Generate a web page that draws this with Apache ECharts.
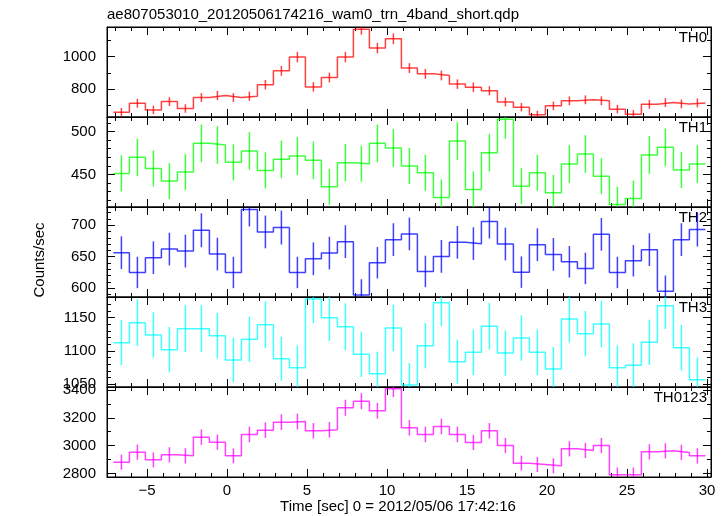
<!DOCTYPE html>
<html><head><meta charset="utf-8">
<script src="https://cdn.jsdelivr.net/npm/echarts@6/dist/echarts.min.js"></script>
<style>html,body{margin:0;padding:0;background:#fff}#c{width:728px;height:516px}</style>
</head><body><div id="c"></div>
<script>
// ---- data ----
const titleText = 'ae807053010_20120506174216_wam0_trn_4band_short.qdp';
const xLabelText = 'Time [sec] 0 = 2012/05/06 17:42:16';
const yLabelText = 'Counts/sec';
const panelNames = ['TH0', 'TH1', 'TH2', 'TH3', 'TH0123'];
const colors = ['#ff0000', '#00ff00', '#0000ff', '#00ffff', '#ff00ff'];

const time = [-6.6,-5.6,-4.6,-3.6,-2.6,-1.6,-0.6,0.4,1.4,2.4,3.4,4.4,5.4,6.4,7.4,8.4,9.4,10.4,11.4,12.4,13.4,14.4,15.4,16.4,17.4,18.4,19.4,20.4,21.4,22.4,23.4,24.4,25.4,26.4,27.4,28.4,29.4];
const halfBin = 0.5;

const th0 = [659,714,673,724,682,749,761,749,757,827,912,996,814,871,996,1167,1051,1108,929,894,884,831,812,790,722,690,643,698,729,735,729,678,647,708,718,710,716];
const th0Err = [26,27,26,27,26,27,28,27,28,29,30,32,29,30,32,34,32,33,30,30,30,29,29,28,27,26,25,26,27,27,27,26,25,27,27,27,27];

const th1 = [451.2,469.9,457,442.2,452.7,486.3,484.4,464.1,477.3,454.7,467.6,471.5,466.4,435.5,463.7,462.5,486.3,480.9,459.8,452,423,489,432.4,475.4,514.5,436.3,452,428.5,462.1,473.8,448,414.8,421.9,472.7,481.6,455.1,462.1];
const th1Err = [21,22,21,21,21,22,22,21,22,21,22,22,22,21,22,21,22,22,21,21,21,22,21,22,23,21,21,21,22,22,21,21,21,22,22,21,22];

const th2 = [656.4,625,648.4,662.2,659,692,654.2,625,725,689.4,696.3,625,646.8,655.8,673.9,589.3,640.4,677.1,686.2,626.6,650.5,672.9,670.7,705.9,670.2,625.5,669.1,653.7,642,631.4,685.6,625,643.6,661.2,595.2,677.1,693.1];
const th2Err = [26,25,26,26,26,27,26,25,27,26,27,25,26,26,26,25,25,26,26,25,26,26,26,27,26,25,26,26,25,25,26,25,25,26,25,26,27];

const th3 = [1112.5,1142.5,1124,1102,1133.5,1133.5,1123,1086.5,1117.5,1139.5,1088.5,1075,1178,1150,1136.5,1095,1066,1134.5,1049,1108,1172.5,1084,1098,1137,1097,1119.5,1098,1073,1148,1126,1140.5,1075,1078.5,1113,1168,1105,1057];
const th3Err = [34,35,34,34,35,35,34,33,34,35,33,33,36,35,35,34,33,35,33,34,35,33,34,35,34,34,34,33,35,34,35,33,33,34,35,34,33];

const th0123 = [2880.8,2952.8,2897.6,2933.6,2926.4,3060.8,3024.8,2926.4,3080,3111.2,3168.8,3173.6,3106.4,3113.6,3272,3320,3250.4,3408.8,3128,3080,3137.6,3080,3022.4,3106.4,3000.8,2873.6,2864,2854.4,2976.8,2964.8,3000.8,2789.6,2789.6,2955.2,2962.4,2950.4,2926.4];
const th0123Err = [54,55,54,55,55,56,55,54,56,56,57,57,56,56,58,58,57,59,56,56,56,56,55,56,55,54,54,54,55,55,55,53,53,55,55,55,55];

const xRange = [-7.5, 30.25];
const xMajor = 5;
const yRanges = [[630, 1180], [412, 517], [586, 729], [1046, 1181], [2774, 3422]];
const yMajor = [200, 50, 50, 50, 200];
const yMinorSplit = [2, 5, 5, 5, 2];

const values = [th0, th1, th2, th3, th0123];
const errors = [th0Err, th1Err, th2Err, th3Err, th0123Err];

// ---- chart ----
const FONT = 'Liberation Sans, Arial, Helvetica, sans-serif';
const chart = echarts.init(document.getElementById('c'), null, {renderer: 'canvas'});
const gridLeft = 107, gridWidth = 604, gridTop = 27, gridH = 90;

const grids = [], xAxes = [], yAxes = [], series = [], graphics = [];
for (let i = 0; i < 5; i++) {
  grids.push({left: gridLeft, width: gridWidth, top: gridTop + i * gridH, height: gridH,
    show: true, borderColor: '#000', borderWidth: 1, backgroundColor: 'transparent'});
  const isLast = i === 4;
  const xBase = {
    type: 'value', gridIndex: i, min: xRange[0], max: xRange[1],
    minInterval: xMajor, maxInterval: xMajor,
    axisLine: {show: true, onZero: false, lineStyle: {color: '#000', width: 1}},
    axisTick: {show: true, inside: true, length: 8, lineStyle: {color: '#000', width: 1}},
    minorTick: {show: true, splitNumber: 5, length: 4, lineStyle: {color: '#000', width: 1}},
    splitLine: {show: false}, minorSplitLine: {show: false}
  };
  xAxes.push(Object.assign({}, xBase, {position: 'bottom',
    axisLabel: {show: isLast, color: '#000', fontSize: 15, fontFamily: FONT, margin: 6,
      showMinLabel: false, showMaxLabel: true,
      formatter: v => (Math.abs(v % xMajor) < 1e-9 ? String(v).replace('-', '\u2212') : '')}}));
  xAxes.push(Object.assign({}, xBase, {position: 'top', axisLabel: {show: false}}));

  const yBase = {
    type: 'value', gridIndex: i, min: yRanges[i][0], max: yRanges[i][1],
    minInterval: yMajor[i], maxInterval: yMajor[i], scale: true,
    axisLine: {show: true, onZero: false, lineStyle: {color: '#000', width: 1}},
    axisTick: {show: true, inside: true, length: 8, lineStyle: {color: '#000', width: 1}},
    minorTick: {show: true, splitNumber: yMinorSplit[i], length: 4, lineStyle: {color: '#000', width: 1}},
    splitLine: {show: false}, minorSplitLine: {show: false}
  };
  const step = yMajor[i];
  yAxes.push(Object.assign({}, yBase, {position: 'left',
    axisLabel: {show: true, color: '#000', fontSize: 15, fontFamily: FONT, margin: 11,
      showMinLabel: true, showMaxLabel: true,
      formatter: v => (Math.abs(v % step) < 1e-9 ? String(v) : '')}}));
  yAxes.push(Object.assign({}, yBase, {position: 'right', axisLabel: {show: false}}));

  const col = colors[i];
  const vals = values[i], errs = errors[i];
  const stepData = time.map((t, k) => [t - halfBin, vals[k]]);
  stepData.push([time[time.length - 1] + halfBin, vals[vals.length - 1]]);
  series.push({
    type: 'line', name: panelNames[i], xAxisIndex: 2 * i, yAxisIndex: 2 * i,
    data: stepData, step: 'end', showSymbol: false, symbol: 'none', clip: true,
    lineStyle: {color: col, width: 1.5, opacity: 0.75}, animation: false, silent: true
  });
  series.push({
    type: 'custom', name: panelNames[i] + ' err', xAxisIndex: 2 * i, yAxisIndex: 2 * i,
    data: time.map((t, k) => [t, vals[k], errs[k]]), clip: true, animation: false, silent: true,
    renderItem: function (params, api) {
      const x = api.value(0), y = api.value(1), e = api.value(2);
      const p1 = api.coord([x, y - e]), p2 = api.coord([x, y + e]);
      return {type: 'line', shape: {x1: p1[0], y1: p1[1], x2: p2[0], y2: p2[1]},
        style: {stroke: col, lineWidth: 1.5, opacity: 0.75}};
    }
  });
  graphics.push({type: 'text', x: 707, y: gridTop + i * gridH + 11,
    style: {text: panelNames[i], fill: '#000', fontSize: 15, fontFamily: FONT, align: 'right', verticalAlign: 'middle'}});
}
graphics.push({type: 'text', x: 107, y: 15,
  style: {text: titleText, fill: '#000', fontSize: 15, fontFamily: FONT, align: 'left', verticalAlign: 'middle'}});
graphics.push({type: 'text', x: 398, y: 507,
  style: {text: xLabelText, fill: '#000', fontSize: 15, fontFamily: FONT, align: 'center', verticalAlign: 'middle'}});
graphics.push({type: 'text', x: 40, y: 260, rotation: Math.PI / 2,
  style: {text: yLabelText, fill: '#000', fontSize: 15, fontFamily: FONT, align: 'center', verticalAlign: 'middle'}});

chart.setOption({
  animation: false,
  backgroundColor: '#fff',
  textStyle: {fontFamily: FONT},
  grid: grids, xAxis: xAxes, yAxis: yAxes, series: series, graphic: graphics
});
</script></body></html>
